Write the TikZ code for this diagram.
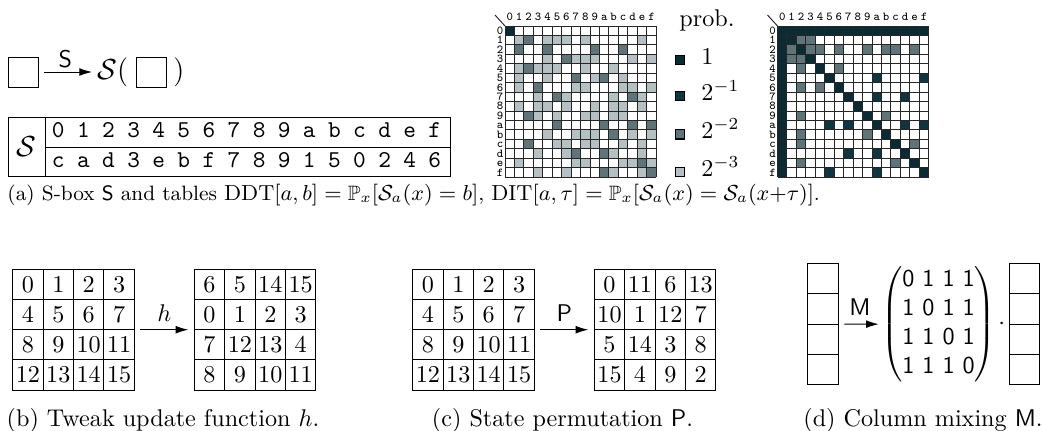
\documentclass[tikz,border=0pt]{standalone}
\usepackage{amsmath,amssymb}
\usepackage{xcolor}
\usepackage{tikz}
\usetikzlibrary{positioning,arrows.meta,fit}
\definecolor{pr0}{HTML}{FFFFFF}
\definecolor{pr1}{HTML}{B4C0C1}
\definecolor{pr2}{HTML}{5F7479}
\definecolor{pr3}{HTML}{0F3541}
\definecolor{pr4}{HTML}{0A2A34}
\newcommand{\pxu}{0.414pt}
% 4x4 state: name, left, top, entries
\newcommand{\stategrid}[4]{%
  \foreach \v [count=\i from 0] in {#4} {
    \pgfmathtruncatemacro{\gr}{div(\i,4)}
    \pgfmathtruncatemacro{\gc}{mod(\i,4)}
    \node[cellbox] (#1-\i) at ({#2+(\gc+0.5)*30.4},{#3+(\gr+0.5)*30.2}) {$\v$};
  }
  \node[fit=(#1-0)(#1-15),inner sep=0pt] (#1) {};
}
% 16x16 table: name, left, rows
\newcommand{\probtable}[3]{%
  \foreach \rowvals [count=\r from 0] in {#3} {
    \foreach \v [count=\c from 0] in \rowvals
      \fill[pr\v] ({#2+\c*9.45},{26+\r*9.45}) rectangle ++(9.45,9.45);
  }
  \foreach \k in {0,...,16} {
    \draw[gridline] ({#2+\k*9.45},26) -- ++(0,151.2);
    \draw[gridline] (#2,{26+\k*9.45}) -- ++(151.2,0);
  }
  \foreach \h [count=\k from 0] in {0,1,2,3,4,5,6,7,8,9,a,b,c,d,e,f} {
    \node[ttlab] (#1-col-\k) at ({#2+(\k+0.5)*9.45},20.8) {\h};
    \node[ttlab] (#1-row-\k) at ({#2-5},{26+(\k+0.5)*9.45+3.6}) {\h};
  }
  \draw[gridline] (#2,26) -- ++(-10,-11);
}

\begin{document}
\begin{tikzpicture}[x=\pxu,y=-\pxu,
  cellbox/.style={draw,inner sep=0pt,minimum width=30.4*\pxu,minimum height=30.2*\pxu},
  colbox/.style={draw,inner sep=0pt,minimum width=30.6*\pxu,minimum height=30.4*\pxu},
  mapto/.style={-{Latex[length=5.2pt,width=3.2pt]},shorten <=2.1pt,shorten >=2.1pt},
  gridline/.style={draw=black!85,line width=0.4pt},
  ttlab/.style={font=\tiny\ttfamily,inner sep=0pt,anchor=base},
  sboxent/.style={font=\ttfamily,inner sep=0pt,anchor=base}]
  \useasboundingbox (0,0) rectangle (1042,430);

  % (a) S-box
  \node[draw,inner sep=0pt,minimum size=30*\pxu] (sin) at (23.3,72) {};
  \node[anchor=west,inner sep=2pt,font=\large] (sout) at (92,72) {$\mathcal{S}($};
  \node[draw,inner sep=0pt,minimum size=30*\pxu] (sarg) at (151.7,72) {};
  \node[inner sep=0pt,font=\large] (sclose) at (179,72) {$)$};
  \draw[-{Latex[length=5.2pt,width=3.2pt]},shorten <=2.1pt] (sin) -- node[above,inner sep=1.5pt] {\textsf{S}} (sout);

  \draw (8.3,117.3) rectangle (450,176.7);
  \draw (45,117.3) -- (45,176.7);
  \draw (45,147.3) -- (450,147.3);
  \node (slab) at (26.6,147) {\large$\mathcal{S}$};
  \foreach \a/\b [count=\i from 0] in {0/c,1/a,2/d,3/3,4/e,5/b,6/f,7/7,8/8,9/9,a/1,b/5,c/0,d/2,e/4,f/6} {
    \node[sboxent] (sx-\i) at (58.3+\i*25.1,137.6) {\a};
    \node[sboxent] (sy-\i) at (58.3+\i*25.1,167.6) {\b};
  }

  % DDT
  \probtable{ddt}{505}{
    {4,0,0,0,0,0,0,0,0,0,0,0,0,0,0,0},
    {0,1,2,0,1,1,1,0,1,0,0,0,0,0,1,0},
    {0,2,0,0,2,0,0,0,0,2,0,0,2,0,0,0},
    {0,0,0,0,1,0,2,1,1,1,0,0,0,1,0,1},
    {0,1,2,1,1,1,0,0,1,0,0,1,0,0,0,0},
    {0,1,0,0,1,0,0,2,0,1,2,0,1,0,0,0},
    {0,1,0,2,0,0,0,1,1,0,0,0,1,1,0,1},
    {0,0,0,1,0,2,1,0,0,0,0,1,0,2,1,0},
    {0,1,0,1,1,0,1,0,0,1,0,1,1,0,1,0},
    {0,0,2,1,0,1,0,0,1,1,0,1,1,0,0,0},
    {0,0,0,0,0,2,0,0,0,0,2,0,0,2,0,2},
    {0,0,0,0,1,0,0,1,1,1,0,2,0,1,0,1},
    {0,0,2,0,0,1,1,0,1,1,0,0,1,0,1,0},
    {0,0,0,1,0,0,1,2,0,0,2,1,0,0,1,0},
    {0,1,0,0,0,0,0,1,1,0,0,0,1,1,2,1},
    {0,0,0,1,0,0,1,0,0,0,2,1,0,0,1,2}}

  % DIT
  \probtable{dit}{777.5}{
    {4,4,4,4,4,4,4,4,4,4,4,4,4,4,4,4},
    {4,4,2,2,0,0,0,0,0,0,0,0,0,0,0,0},
    {4,2,4,2,2,0,2,0,0,2,0,2,2,0,2,0},
    {4,2,2,4,0,0,0,0,0,0,0,0,0,0,0,0},
    {4,0,2,0,4,0,2,0,0,0,0,0,0,0,0,0},
    {4,0,0,0,0,4,0,0,0,0,3,0,0,0,0,3},
    {4,0,2,0,2,0,4,0,0,0,0,0,0,0,0,0},
    {4,0,0,0,0,0,0,4,0,0,3,0,0,3,0,0},
    {4,0,0,0,0,0,0,0,4,0,0,0,0,0,0,0},
    {4,0,2,0,0,0,0,0,0,4,0,2,0,0,0,0},
    {4,0,0,0,0,3,0,3,0,0,4,0,0,3,0,3},
    {4,0,2,0,0,0,0,0,0,2,0,4,0,0,0,0},
    {4,0,2,0,0,0,0,0,0,0,0,0,4,0,2,0},
    {4,0,0,0,0,0,0,3,0,0,3,0,0,4,0,0},
    {4,0,2,0,0,0,0,0,0,0,0,0,2,0,4,0},
    {4,0,0,0,0,3,0,0,0,0,3,0,0,0,0,4}}

  % legend
  \node[anchor=base,inner sep=0pt] (probhead) at (707,26) {prob.};
  \foreach \lab/\lv/\yy [count=\i] in {1/4/59.7,2^{-1}/3/96,2^{-2}/2/134.3,2^{-3}/1/171.7} {
    \filldraw[fill=pr\lv,draw=black,line width=0.45pt] (675.4,\yy-4.65) rectangle ++(9.3,9.3);
    \node[anchor=base west,inner sep=0pt] (prob-\i) at (701,\yy+4.4) {$\lab$};
  }
  \node[anchor=west,inner sep=0pt,font=\fontsize{8.6pt}{10pt}\selectfont] (capa) at (7,195) {(a) S-box \textsf{S} and tables $\mathrm{DDT}[a,b]=\mathbb{P}_x[\mathcal{S}_a(x)=b]$, $\mathrm{DIT}[a,\tau]=\mathbb{P}_x[\mathcal{S}_a(x)=\mathcal{S}_a(x{+}\tau)]$.};

  % (b) tweak update
  \stategrid{hin}{12.7}{269.3}{0,1,2,3,4,5,6,7,8,9,10,11,12,13,14,15}
  \stategrid{hout}{194.3}{269.3}{6,5,14,15,0,1,2,3,7,12,13,4,8,9,10,11}
  \draw[mapto] (hin) -- node[above] {$h$} (hout);
  \node (capb) at (163,420) {(b) Tweak update function $h$.};

  % (c) state permutation
  \stategrid{pin}{412.7}{269.3}{0,1,2,3,4,5,6,7,8,9,10,11,12,13,14,15}
  \stategrid{pout}{594.3}{269.3}{0,11,6,13,10,1,12,7,5,14,3,8,15,4,9,2}
  \draw[mapto] (pin) -- node[above] {\textsf{P}} (pout);
  \node (capc) at (562.5,420) {(c) State permutation \textsf{P}.};

  % (d) column mixing
  \foreach \i in {0,...,3} {
    \node[colbox] (min-\i) at (823,{263.3+(\i+0.5)*30.4}) {};
    \node[colbox] (mout-\i) at (1024.5,{263.3+(\i+0.5)*30.4}) {};
  }
  \node[fit=(min-0)(min-3),inner sep=0pt] (min) {};
  \node[inner sep=0pt] (mmat) at (938.5,324.2) {$\begin{pmatrix}\textsf{0 1 1 1}\\\textsf{1 0 1 1}\\\textsf{1 1 0 1}\\\textsf{1 1 1 0}\end{pmatrix}$};
  \node[inner sep=0pt] (mdot) at (1001.7,324.2) {$\cdot$};
  \draw[mapto,shorten >=0.8pt] (min) -- node[above] {\textsf{M}} (mmat);
  \node (capd) at (923,420) {(d) Column mixing \textsf{M}.};
\end{tikzpicture}
\end{document}
